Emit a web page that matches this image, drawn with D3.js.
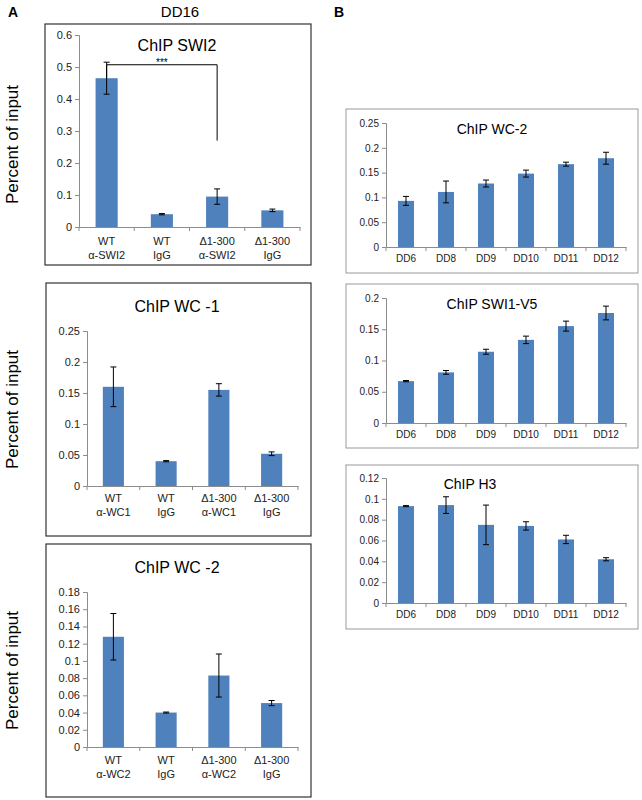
<!DOCTYPE html>
<html><head><meta charset="utf-8">
<script src="https://cdn.jsdelivr.net/npm/d3@7"></script>
<style>body{margin:0;background:#fff}text{font-family:Arial,"Liberation Sans",sans-serif}</style>
</head><body>
<svg id="fig" width="642" height="800"></svg>
<script>
// categories
var groupsA = ["WT|α-SWI2", "WT|IgG", "Δ1-300|α-SWI2", "Δ1-300|IgG"];
var groupsWC1 = ["WT|α-WC1", "WT|IgG", "Δ1-300|α-WC1", "Δ1-300|IgG"];
var groupsWC2 = ["WT|α-WC2", "WT|IgG", "Δ1-300|α-WC2", "Δ1-300|IgG"];
var days = ["DD6", "DD8", "DD9", "DD10", "DD11", "DD12"];

// values and errors
var swi2 = [0.465, 0.040, 0.095, 0.052], swi2Err = [0.05, 0.002, 0.024, 0.004];
var wc1 = [0.160, 0.040, 0.155, 0.052], wc1Err = [0.032, 0.001, 0.010, 0.003];
var wc2 = [0.128, 0.040, 0.083, 0.051], wc2Err = [0.027, 0.0006, 0.025, 0.003];
var bWc2 = [0.093, 0.111, 0.128, 0.148, 0.167, 0.179], bWc2Err = [0.009, 0.022, 0.007, 0.007, 0.004, 0.012];
var bSwi1 = [0.067, 0.081, 0.114, 0.133, 0.155, 0.176], bSwi1Err = [0.001, 0.003, 0.004, 0.006, 0.008, 0.011];
var bH3 = [0.093, 0.094, 0.075, 0.074, 0.061, 0.042], bH3Err = [0.0005, 0.008, 0.019, 0.004, 0.004, 0.0015];

// tick labels
var ticksA1 = [0, 0.1, 0.2, 0.3, 0.4, 0.5, 0.6];
var ticksA2 = [0, 0.05, 0.1, 0.15, 0.2, 0.25];
var ticksA3 = [0, 0.02, 0.04, 0.06, 0.08, 0.1, 0.12, 0.14, 0.16, 0.18];
var ticksB1 = [0, 0.05, 0.1, 0.15, 0.2, 0.25];
var ticksB2 = [0, 0.05, 0.1, 0.15, 0.2];
var ticksB3 = [0, 0.02, 0.04, 0.06, 0.08, 0.1, 0.12];

var svg = d3.select("#fig");
var BAR = "#4f81bd";

function panel(o) {
    var g = svg.append("g");
    g.append("rect").attr("x", o.box[0]).attr("y", o.box[1])
        .attr("width", o.box[2] - o.box[0]).attr("height", o.box[3] - o.box[1])
        .attr("fill", "none").attr("stroke", o.boxColor).attr("stroke-width", o.boxW);

    var y = d3.scaleLinear().domain([0, o.ticks[o.ticks.length - 1]]).range([o.y0, o.yTop]);
    var x = d3.scaleBand().domain(o.cats).range([o.x0, o.x1]).paddingInner(o.pad).paddingOuter(o.pad / 2);

    var ya = g.append("g").attr("transform", "translate(" + o.x0 + ",0)")
        .call(d3.axisLeft(y).tickValues(o.ticks).tickSize(4).tickFormat(d3.format("")));
    var xa = g.append("g").attr("transform", "translate(0," + o.y0 + ")")
        .call(d3.axisBottom(x).tickSize(0).tickFormat(""));
    [ya, xa].forEach(function(a) {
        a.selectAll("path,line").attr("stroke", "#8c8c8c");
        a.selectAll("text").attr("fill", "#222").style("font-size", o.fs + "px");
    });
    // category separator ticks on x axis
    var step = x.step();
    for (var i = 0; i <= o.cats.length; i++) {
        var tx = o.x0 + i * step;
        g.append("line").attr("x1", tx).attr("x2", tx).attr("y1", o.y0).attr("y2", o.y0 + 4).attr("stroke", "#8c8c8c");
    }

    g.selectAll("rect.bar").data(o.vals).enter().append("rect")
        .attr("x", function(d, i) { return x(o.cats[i]); })
        .attr("width", x.bandwidth())
        .attr("y", function(d) { return y(d); })
        .attr("height", function(d) { return o.y0 - y(d); })
        .attr("fill", BAR);

    o.vals.forEach(function(v, i) {
        var cx = x(o.cats[i]) + x.bandwidth() / 2, e = o.errs[i];
        g.append("path").attr("d", "M" + (cx - 3) + "," + y(v + e) + "h6M" + cx + "," + y(v + e) + "V" + y(v - e) + "M" + (cx - 3) + "," + y(v - e) + "h6")
            .attr("stroke", "#000").attr("fill", "none").attr("stroke-width", 1);
        var parts = o.cats[i].split("|");
        parts.forEach(function(p, k) {
            g.append("text").attr("x", cx).attr("y", o.labY + k * 14).attr("text-anchor", "middle")
                .style("font-size", o.fs + "px").attr("fill", "#222").text(p);
        });
    });

    g.append("text").attr("x", o.titleX).attr("y", o.titleY).attr("text-anchor", "middle")
        .style("font-size", o.tfs + "px").text(o.title);
    if (o.ylab) {
        g.append("text").attr("transform", "translate(18," + ((o.box[1] + o.box[3]) / 2) + ") rotate(-90)")
            .attr("text-anchor", "middle").style("font-size", "17px").text("Percent of input");
    }
    return { x: x, y: y, g: g };
}

var p1 = panel({ box: [45, 24, 311, 265], boxColor: "#333", boxW: 1.2, x0: 79, x1: 300, y0: 227, yTop: 35,
    ticks: ticksA1, cats: groupsA, vals: swi2, errs: swi2Err, pad: 0.6, fs: 11, labY: 245,
    title: "ChIP SWI2", titleX: 177, titleY: 51, tfs: 16, ylab: true });
// significance bracket
var bx1 = p1.x(groupsA[0]) + p1.x.bandwidth() / 2, bx2 = p1.x(groupsA[2]) + p1.x.bandwidth() / 2;
p1.g.append("path").attr("d", "M" + bx1 + "," + p1.y(0.465) + "V" + p1.y(0.507) + "H" + bx2 + "V" + p1.y(0.27))
    .attr("stroke", "#000").attr("fill", "none");
p1.g.append("text").attr("x", (bx1 + bx2) / 2).attr("y", p1.y(0.507) + 1).attr("text-anchor", "middle")
    .style("font-size", "10px").text("***");

panel({ box: [46, 283, 311, 536], boxColor: "#333", boxW: 1.2, x0: 87, x1: 298, y0: 486, yTop: 331,
    ticks: ticksA2, cats: groupsWC1, vals: wc1, errs: wc1Err, pad: 0.6, fs: 11, labY: 502,
    title: "ChIP WC -1", titleX: 177, titleY: 312, tfs: 16, ylab: true });
panel({ box: [46, 544, 311, 797], boxColor: "#333", boxW: 1.2, x0: 87, x1: 298, y0: 747, yTop: 592,
    ticks: ticksA3, cats: groupsWC2, vals: wc2, errs: wc2Err, pad: 0.6, fs: 11, labY: 764,
    title: "ChIP WC -2", titleX: 177, titleY: 573, tfs: 16, ylab: true });

panel({ box: [346, 109, 638, 273], boxColor: "#999", boxW: 1, x0: 386, x1: 626, y0: 247, yTop: 123,
    ticks: ticksB1, cats: days, vals: bWc2, errs: bWc2Err, pad: 0.6, fs: 10, labY: 262,
    title: "ChIP WC-2", titleX: 492, titleY: 134, tfs: 14 });
panel({ box: [346, 284, 638, 448], boxColor: "#999", boxW: 1, x0: 386, x1: 626, y0: 423, yTop: 298,
    ticks: ticksB2, cats: days, vals: bSwi1, errs: bSwi1Err, pad: 0.6, fs: 10, labY: 438,
    title: "ChIP SWI1-V5", titleX: 492, titleY: 309, tfs: 14 });
panel({ box: [346, 465, 638, 629], boxColor: "#999", boxW: 1, x0: 386, x1: 626, y0: 603, yTop: 478,
    ticks: ticksB3, cats: days, vals: bH3, errs: bH3Err, pad: 0.6, fs: 10, labY: 618,
    title: "ChIP H3", titleX: 470, titleY: 489, tfs: 14 });

svg.append("text").attr("x", 8).attr("y", 17).style("font-size", "14px").style("font-weight", "bold").text("A");
svg.append("text").attr("x", 334).attr("y", 17).style("font-size", "14px").style("font-weight", "bold").text("B");
svg.append("text").attr("x", 180).attr("y", 17).attr("text-anchor", "middle").style("font-size", "15px").text("DD16");
</script>
</body></html>
